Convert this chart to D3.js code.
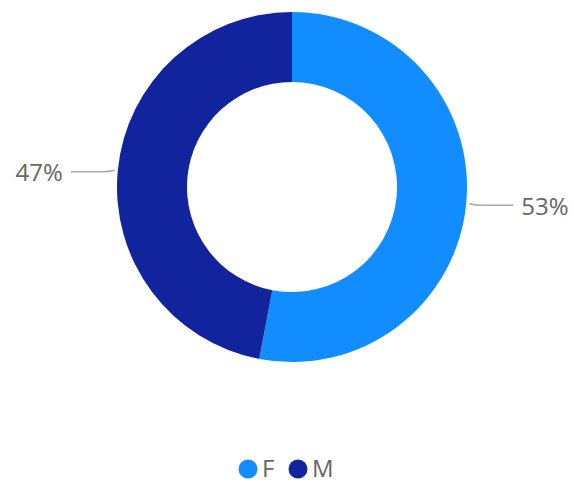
<!DOCTYPE html>
<html>
<head>
<meta charset="utf-8">
<script src="https://cdn.jsdelivr.net/npm/d3@7"></script>
<style>
  body { margin: 0; background: #fff; }
  text { font-family: "Segoe UI", "Open Sans", sans-serif; }
</style>
</head>
<body>
<script>
"use strict";
(function(){
    // data
    const categories = ["F", "M"]
    const shares = [53, 47]
    const colors = ["#118DFF", "#12239E"]

    const measurements = {
        width: 574,
        height: 484,
        cx: 292,
        cy: 187,
        outer: 175,
        inner: 105
    }

    const svgContainer = d3.select('body').append("svg")
        .attr('width', measurements.width)
        .attr('height', measurements.height)

    const data = categories.map((c, i) => ({ name: c, value: shares[i], color: colors[i] }))

    const pie = d3.pie()
        .sort(null)
        .value(d => d.value)

    const arc = d3.arc()
        .innerRadius(measurements.inner)
        .outerRadius(measurements.outer)

    const chart = svgContainer.append('g')
        .attr('transform', `translate(${measurements.cx},${measurements.cy})`)

    const slices = pie(data)

    chart.selectAll('.slice')
        .data(slices)
        .enter()
        .append('path')
            .attr('class', 'slice')
            .attr('d', arc)
            .attr('fill', d => d.data.color)

    // leader lines + labels
    slices.forEach((s) => {
        const mid = (s.startAngle + s.endAngle) / 2
        const x0 = Math.sin(mid) * (measurements.outer + 3)
        const y0 = -Math.cos(mid) * (measurements.outer + 3)
        const side = x0 > 0 ? 1 : -1
        const x1 = x0 + side * 12
        const y1 = y0 + 1.5
        const x2 = x0 + side * 44
        chart.append('path')
            .attr('d', `M${x0},${y0}Q${x0 + side * 6},${y1} ${x1},${y1}L${x2},${y1}`)
            .attr('fill', 'none')
            .attr('stroke', '#aaaaaa')
            .attr('stroke-width', 1.5)
        chart.append('text')
            .attr('x', x2 + side * 8)
            .attr('y', y1 + 1)
            .attr('dy', '0.35em')
            .attr('text-anchor', side > 0 ? 'start' : 'end')
            .attr('font-size', 24)
            .attr('fill', '#666666')
            .text(Math.round(s.data.value) + '%')
    })

    // legend
    const legend = svgContainer.append('g')
        .attr('transform', 'translate(248,469)')
    const legendX = d3.scaleOrdinal().domain(categories).range([0, 50])
    categories.forEach((c, i) => {
        const g = legend.append('g').attr('transform', `translate(${legendX(c)},0)`)
        g.append('circle')
            .attr('r', 9.5)
            .attr('fill', colors[i])
        g.append('text')
            .attr('x', 14)
            .attr('dy', '0.35em')
            .attr('font-size', 24)
            .attr('fill', '#666666')
            .text(c)
    })
})()
</script>
</body>
</html>
